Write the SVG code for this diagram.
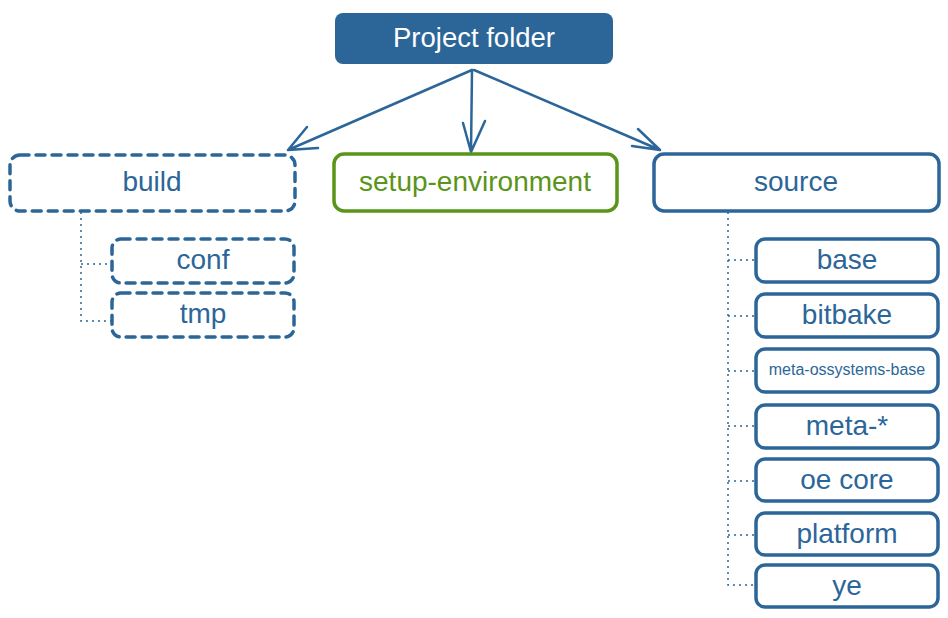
<svg xmlns="http://www.w3.org/2000/svg" width="948" height="618" viewBox="0 0 948 618">
<defs>
<style>
.t{font-family:"Liberation Sans",Arial,sans-serif;text-anchor:middle;dominant-baseline:central;fill:#2c6699;font-size:28px}
.box{fill:#fff;stroke:#2c6699;stroke-width:3.5}
.dash{stroke-dasharray:9 7;stroke-linecap:round}
.dot{fill:none;stroke:#2c6699;stroke-width:1.5;stroke-dasharray:2 4}
.arr{fill:none;stroke:#2c6699;stroke-width:2.5;stroke-linecap:round;stroke-linejoin:round}
</style>
</defs>
<g id="connectors">
<path class="arr" d="M472 70 L288 150 M307 127 L288 150 L318 148"/>
<path class="arr" d="M472 70 L471 152 M463 123 L471 152 L485 121"/>
<path class="arr" d="M474 70 L660 150 M632 146 L660 150 L638 129"/>
<path class="dot" d="M81 212 V321 H111 M81 264 H111"/>
<path class="dot" d="M728 212 V585 H755 M728 260 H755 M728 316 H755 M728 371 H755 M728 426 H755 M728 481 H755 M728 535 H755"/>
</g>
<g id="project-folder">
<rect x="335" y="13" width="278" height="51" rx="8" fill="#2c6699"/>
<text class="t" x="474" y="37" style="fill:#fff;font-size:27.5px">Project folder</text>
</g>
<g id="build">
<rect class="box dash" x="10" y="155" width="285" height="56" rx="10"/>
<text class="t" x="152" y="181">build</text>
</g>
<g id="setup-environment">
<rect x="334" y="154" width="283" height="57" rx="10" fill="#fff" stroke="#5a9418" stroke-width="3.5"/>
<text class="t" x="475" y="181" style="fill:#5a9418">setup-environment</text>
</g>
<g id="source">
<rect class="box" x="654" y="154" width="285" height="57" rx="10"/>
<text class="t" x="796" y="181">source</text>
</g>
<g id="conf">
<rect class="box dash" x="112" y="239" width="182" height="44" rx="9"/>
<text class="t" x="203" y="259">conf</text>
</g>
<g id="tmp">
<rect class="box dash" x="112" y="293" width="182" height="44" rx="9"/>
<text class="t" x="203" y="313">tmp</text>
</g>
<g id="base">
<rect class="box" x="756" y="239" width="182" height="43" rx="9"/>
<text class="t" x="847" y="259">base</text>
</g>
<g id="bitbake">
<rect class="box" x="756" y="294" width="182" height="43" rx="9"/>
<text class="t" x="847" y="314">bitbake</text>
</g>
<g id="meta-ossystems-base">
<rect class="box" x="756" y="349" width="182" height="43" rx="9"/>
<text class="t" x="847" y="369.5" style="font-size:16px">meta-ossystems-base</text>
</g>
<g id="meta-star">
<rect class="box" x="756" y="405" width="182" height="43" rx="9"/>
<text class="t" x="847" y="425">meta-*</text>
</g>
<g id="oe-core">
<rect class="box" x="756" y="459" width="182" height="42" rx="9"/>
<text class="t" x="847" y="479">oe core</text>
</g>
<g id="platform">
<rect class="box" x="756" y="513" width="182" height="42" rx="9"/>
<text class="t" x="847" y="533">platform</text>
</g>
<g id="ye">
<rect class="box" x="756" y="565" width="182" height="42" rx="9"/>
<text class="t" x="847" y="585">ye</text>
</g>
</svg>
